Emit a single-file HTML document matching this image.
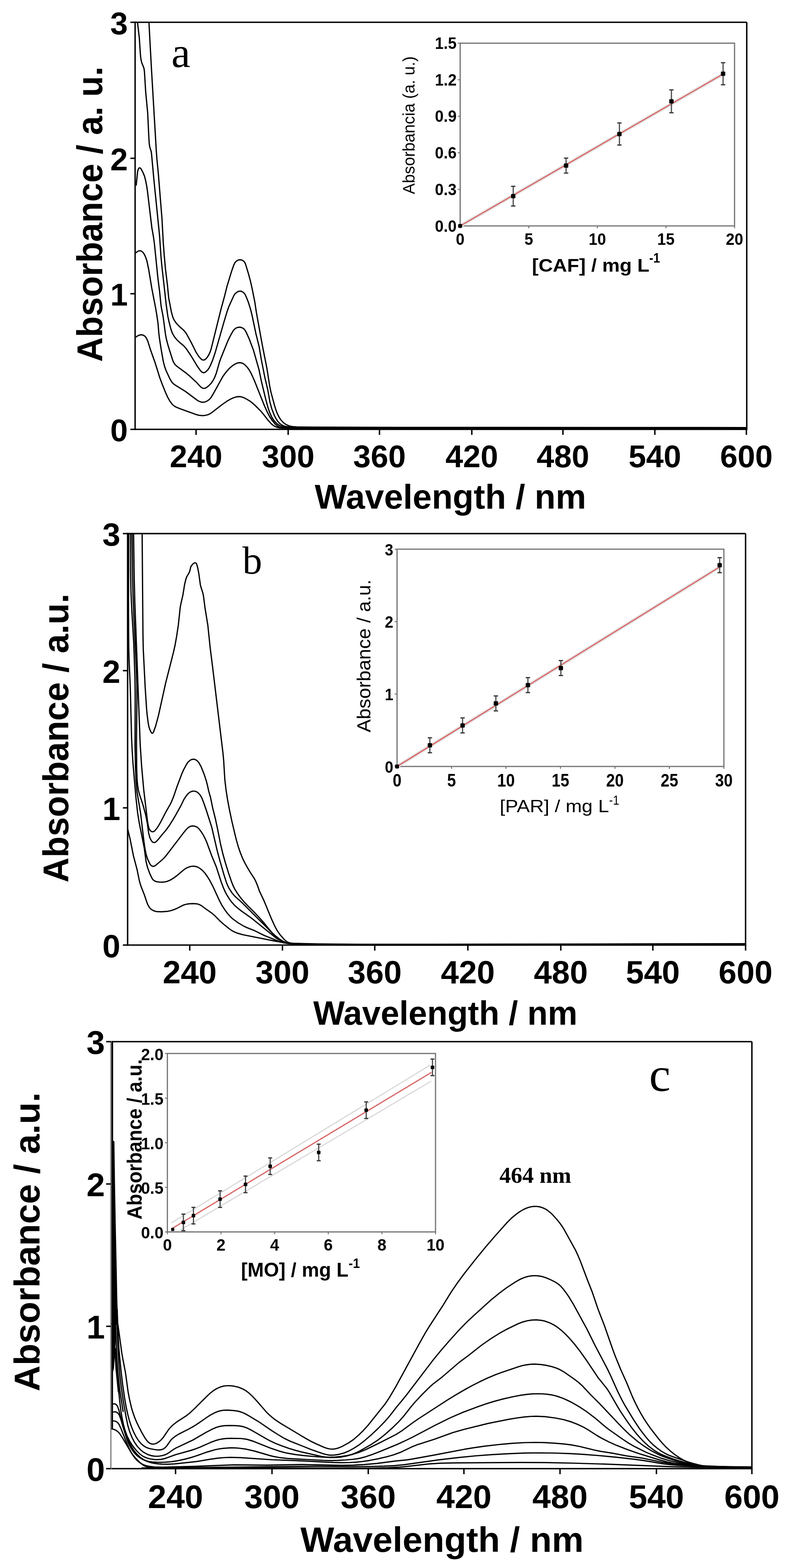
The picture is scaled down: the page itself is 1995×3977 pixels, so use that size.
<!DOCTYPE html>
<html><head><meta charset="utf-8"><title>UV-Vis spectra</title>
<style>html,body{margin:0;padding:0;background:#fff;}svg{display:block;}</style>
</head><body>
<svg xmlns="http://www.w3.org/2000/svg" width="1995" height="3977" viewBox="0 0 1995 3977">
<rect x="0" y="0" width="1995" height="3977" fill="#fff"/>
<line x1="342.5" y1="56.5" x2="1893.0" y2="56.5" stroke="#000" stroke-width="3.6"/>
<line x1="1893.0" y1="56.5" x2="1893.0" y2="1089.0" stroke="#000" stroke-width="3.6"/>
<line x1="340.7" y1="1089.0" x2="1894.8" y2="1089.0" stroke="#000" stroke-width="3.6"/>
<line x1="342.5" y1="54.7" x2="342.5" y2="1090.8" stroke="#000" stroke-width="3.6"/>
<line x1="497.0" y1="1089.0" x2="497.0" y2="1103.0" stroke="#000" stroke-width="3.6"/>
<text transform="translate(497.0,1184.5)" text-anchor="middle" style="font-family:&quot;Liberation Sans&quot;,Arial,sans-serif;font-weight:bold;font-size:80px" fill="#000">240</text>
<line x1="730.5" y1="1089.0" x2="730.5" y2="1103.0" stroke="#000" stroke-width="3.6"/>
<text transform="translate(730.5,1184.5)" text-anchor="middle" style="font-family:&quot;Liberation Sans&quot;,Arial,sans-serif;font-weight:bold;font-size:80px" fill="#000">300</text>
<line x1="962.0" y1="1089.0" x2="962.0" y2="1103.0" stroke="#000" stroke-width="3.6"/>
<text transform="translate(962.0,1184.5)" text-anchor="middle" style="font-family:&quot;Liberation Sans&quot;,Arial,sans-serif;font-weight:bold;font-size:80px" fill="#000">360</text>
<line x1="1196.0" y1="1089.0" x2="1196.0" y2="1103.0" stroke="#000" stroke-width="3.6"/>
<text transform="translate(1196.0,1184.5)" text-anchor="middle" style="font-family:&quot;Liberation Sans&quot;,Arial,sans-serif;font-weight:bold;font-size:80px" fill="#000">420</text>
<line x1="1427.0" y1="1089.0" x2="1427.0" y2="1103.0" stroke="#000" stroke-width="3.6"/>
<text transform="translate(1427.0,1184.5)" text-anchor="middle" style="font-family:&quot;Liberation Sans&quot;,Arial,sans-serif;font-weight:bold;font-size:80px" fill="#000">480</text>
<line x1="1660.0" y1="1089.0" x2="1660.0" y2="1103.0" stroke="#000" stroke-width="3.6"/>
<text transform="translate(1660.0,1184.5)" text-anchor="middle" style="font-family:&quot;Liberation Sans&quot;,Arial,sans-serif;font-weight:bold;font-size:80px" fill="#000">540</text>
<line x1="1892.0" y1="1089.0" x2="1892.0" y2="1103.0" stroke="#000" stroke-width="3.6"/>
<text transform="translate(1892.0,1184.5)" text-anchor="middle" style="font-family:&quot;Liberation Sans&quot;,Arial,sans-serif;font-weight:bold;font-size:80px" fill="#000">600</text>
<line x1="330.5" y1="1089.0" x2="342.5" y2="1089.0" stroke="#000" stroke-width="3.6"/>
<text transform="translate(324.0,1119.0)" text-anchor="end" style="font-family:&quot;Liberation Sans&quot;,Arial,sans-serif;font-weight:bold;font-size:80px" fill="#000">0</text>
<line x1="330.5" y1="745.0" x2="342.5" y2="745.0" stroke="#000" stroke-width="3.6"/>
<text transform="translate(324.0,775.0)" text-anchor="end" style="font-family:&quot;Liberation Sans&quot;,Arial,sans-serif;font-weight:bold;font-size:80px" fill="#000">1</text>
<line x1="330.5" y1="401.5" x2="342.5" y2="401.5" stroke="#000" stroke-width="3.6"/>
<text transform="translate(324.0,431.5)" text-anchor="end" style="font-family:&quot;Liberation Sans&quot;,Arial,sans-serif;font-weight:bold;font-size:80px" fill="#000">2</text>
<line x1="330.5" y1="56.5" x2="342.5" y2="56.5" stroke="#000" stroke-width="3.6"/>
<text transform="translate(324.0,86.5)" text-anchor="end" style="font-family:&quot;Liberation Sans&quot;,Arial,sans-serif;font-weight:bold;font-size:80px" fill="#000">3</text>
<text transform="translate(258.5,918.0) rotate(-90) scale(0.9670,1)" text-anchor="start" style="font-family:&quot;Liberation Sans&quot;,Arial,sans-serif;font-weight:bold;font-size:90px" fill="#000">Absorbance / a. u.</text>
<text transform="translate(797.8,1290.3)" text-anchor="start" style="font-family:&quot;Liberation Sans&quot;,Arial,sans-serif;font-weight:bold;font-size:87px" fill="#000">Wavelength / nm</text>
<text transform="translate(434.5,170.0)" text-anchor="start" style="font-family:&quot;Liberation Serif&quot;,&quot;Times New Roman&quot;,serif;font-weight:normal;font-size:108px" fill="#000">a</text>
<path d="M377.6,57.0 L383.6,168.9 L396.2,382.7 L397.7,402.6 L401.2,438.5 L410.7,556.2 L413.8,614.1 L416.2,646.1 L419.4,681.9 L424.3,721.7 L427.6,755.5 L434.4,790.9 L438.1,804.4 L441.3,811.7 L447.0,819.9 L453.8,827.2 L465.8,837.7 L470.8,843.9 L475.0,850.7 L484.5,868.3 L497.0,893.4 L503.5,903.5 L508.7,909.5 L511.7,912.0 L513.3,912.9 L516.8,913.2 L520.2,911.7 L524.3,907.6 L528.8,901.0 L532.2,893.8 L534.9,886.2 L560.0,785.2 L568.9,752.4 L575.2,727.1 L586.8,688.8 L592.8,671.9 L595.4,666.5 L597.9,663.5 L600.9,661.1 L604.5,659.4 L608.3,658.8 L612.1,659.3 L615.7,660.9 L618.7,663.3 L620.9,666.5 L622.5,670.1 L628.9,691.2 L634.7,712.4 L639.1,731.9 L645.8,765.3 L650.0,793.0 L665.0,875.7 L676.3,932.6 L683.8,980.1 L687.1,995.7 L696.5,1030.5 L699.6,1040.0 L703.1,1049.4 L707.6,1058.3 L712.0,1065.0 L717.3,1070.9 L721.9,1074.7 L725.3,1076.8 L730.7,1079.4 L736.4,1081.2 L742.3,1082.2 L752.3,1082.9 L794.3,1083.3 L1050.5,1084.1 L1891.0,1084.5" fill="none" stroke="#000" stroke-width="3.2" stroke-linejoin="round" stroke-linecap="round"/>
<path d="M348.6,57.0 L353.2,96.8 L355.8,136.7 L357.0,148.6 L359.1,158.4 L364.9,173.2 L366.1,181.1 L369.3,233.0 L374.4,286.8 L377.2,346.8 L378.4,364.8 L379.6,372.7 L383.2,383.9 L384.3,391.9 L389.9,453.6 L404.4,597.0 L408.1,650.9 L410.1,672.8 L421.5,774.3 L425.4,802.0 L428.8,817.7 L433.3,835.1 L436.7,844.5 L440.5,851.5 L443.9,856.5 L449.1,862.5 L453.4,866.7 L465.6,877.0 L472.2,884.5 L484.5,902.8 L499.9,928.5 L508.0,939.9 L512.1,944.1 L515.5,945.3 L517.2,945.2 L519.0,944.7 L522.2,942.6 L527.7,936.9 L529.9,933.6 L532.7,928.3 L539.0,913.6 L545.4,894.6 L567.4,817.6 L576.1,788.9 L580.1,777.6 L592.5,750.3 L594.5,746.9 L597.1,743.9 L601.8,740.4 L605.4,738.8 L609.2,738.4 L612.9,739.3 L616.3,741.3 L619.2,743.9 L621.5,747.2 L624.0,752.5 L629.2,765.6 L635.2,784.6 L639.0,800.2 L648.9,847.2 L657.1,880.2 L662.7,913.8 L671.7,958.9 L678.7,988.1 L684.2,1019.6 L689.0,1037.0 L695.5,1053.8 L699.1,1060.9 L703.4,1067.7 L707.2,1072.2 L711.7,1076.2 L716.8,1079.2 L722.4,1081.2 L732.2,1083.0 L752.2,1084.1 L840.3,1084.7 L1891.0,1085.5" fill="none" stroke="#000" stroke-width="3.2" stroke-linejoin="round" stroke-linecap="round"/>
<path d="M345.3,469.5 L348.8,435.7 L350.2,429.9 L351.9,426.8 L353.1,425.9 L354.3,425.7 L355.6,426.2 L356.8,427.3 L362.5,437.6 L366.3,446.9 L369.3,458.5 L371.6,470.3 L373.7,484.1 L384.9,577.5 L389.1,601.1 L391.5,618.9 L400.4,706.5 L404.7,740.3 L407.9,772.1 L409.0,780.0 L413.6,803.6 L419.4,847.2 L422.0,861.0 L426.1,876.4 L437.5,912.7 L439.7,918.3 L441.7,921.7 L444.0,924.9 L448.4,929.0 L470.9,945.6 L481.7,954.6 L497.8,969.5 L507.3,979.9 L510.2,982.5 L513.5,984.5 L515.3,985.0 L519.0,984.8 L522.6,983.4 L529.0,978.7 L534.6,973.0 L539.2,966.5 L544.0,957.7 L548.3,946.6 L556.0,919.6 L559.9,908.3 L577.2,865.6 L583.2,853.0 L590.0,840.7 L592.2,837.5 L594.9,834.6 L598.1,832.3 L601.7,830.6 L607.5,829.8 L611.3,830.4 L614.9,831.9 L618.2,834.1 L620.8,837.0 L624.7,843.9 L632.0,860.4 L642.6,888.5 L656.3,936.6 L662.8,967.9 L674.1,1014.6 L679.4,1033.9 L683.2,1045.2 L689.0,1058.0 L692.1,1063.1 L695.6,1068.0 L702.5,1075.1 L707.4,1078.5 L711.0,1080.2 L714.8,1081.5 L720.6,1082.8 L728.6,1083.9 L736.5,1084.5 L780.5,1085.3 L850.6,1085.9 L1108.7,1086.3 L1891.0,1086.0" fill="none" stroke="#000" stroke-width="3.2" stroke-linejoin="round" stroke-linecap="round"/>
<path d="M342.5,642.3 L349.0,637.7 L352.5,636.1 L356.1,636.0 L359.5,637.6 L362.4,640.2 L365.8,645.0 L369.2,652.3 L372.4,661.7 L376.9,683.3 L384.7,730.7 L394.2,779.8 L397.3,797.5 L400.7,821.3 L402.6,845.2 L404.3,859.1 L408.3,884.8 L413.9,916.4 L417.3,929.9 L421.5,941.2 L430.8,961.2 L436.0,969.6 L438.6,972.6 L441.7,975.1 L470.5,993.1 L500.9,1015.9 L506.3,1018.6 L510.0,1019.8 L513.9,1020.3 L519.8,1019.5 L523.4,1018.0 L528.5,1014.9 L531.5,1012.3 L535.3,1007.7 L539.5,1000.9 L564.7,955.3 L571.6,945.6 L580.8,935.0 L585.2,930.9 L589.9,927.2 L594.9,923.9 L600.3,921.3 L604.1,920.2 L608.0,919.9 L611.9,920.4 L615.6,921.7 L620.5,925.0 L627.3,932.2 L632.0,938.7 L636.8,947.5 L645.0,965.7 L670.2,1028.9 L677.6,1045.3 L683.1,1056.0 L689.7,1066.0 L697.3,1075.3 L703.3,1080.5 L706.7,1082.5 L710.4,1083.9 L718.3,1085.1 L740.3,1085.8 L832.3,1086.3 L1891.0,1086.5" fill="none" stroke="#000" stroke-width="3.2" stroke-linejoin="round" stroke-linecap="round"/>
<path d="M343.5,855.7 L348.4,852.2 L351.9,850.5 L355.7,849.4 L359.5,849.2 L363.3,850.1 L366.5,852.2 L369.3,855.0 L371.5,858.3 L374.7,865.5 L381.3,886.6 L392.7,918.6 L405.3,958.7 L411.6,975.6 L419.1,994.2 L424.8,1007.0 L430.6,1017.5 L436.6,1025.4 L439.5,1028.2 L442.7,1030.5 L448.0,1033.3 L457.3,1037.0 L498.8,1051.9 L504.6,1053.3 L510.5,1054.0 L514.5,1054.1 L520.5,1053.5 L528.2,1051.5 L535.2,1047.8 L563.6,1025.7 L575.2,1017.7 L583.8,1012.6 L591.0,1009.2 L598.6,1006.8 L604.5,1005.8 L610.4,1006.2 L616.1,1007.9 L623.4,1011.3 L632.0,1016.3 L638.5,1021.0 L647.4,1029.0 L661.5,1043.2 L668.0,1050.9 L680.2,1066.7 L688.3,1075.5 L693.0,1079.2 L698.2,1082.2 L701.9,1083.6 L707.8,1084.9 L715.7,1085.7 L737.7,1086.3 L849.9,1086.8 L1891.0,1087.0" fill="none" stroke="#000" stroke-width="3.2" stroke-linejoin="round" stroke-linecap="round"/>
<rect x="1166.5" y="109.5" width="695.5" height="463.5" fill="none" stroke="#737373" stroke-width="3"/>
<line x1="1160.5" y1="573.0" x2="1166.5" y2="573.0" stroke="#737373" stroke-width="2.5"/>
<text transform="translate(1157.5,587.5) scale(0.9200,1)" text-anchor="end" style="font-family:&quot;Liberation Sans&quot;,Arial,sans-serif;font-weight:bold;font-size:43px" fill="#000">0.0</text>
<line x1="1160.5" y1="480.3" x2="1166.5" y2="480.3" stroke="#737373" stroke-width="2.5"/>
<text transform="translate(1157.5,494.8) scale(0.9200,1)" text-anchor="end" style="font-family:&quot;Liberation Sans&quot;,Arial,sans-serif;font-weight:bold;font-size:43px" fill="#000">0.3</text>
<line x1="1160.5" y1="387.6" x2="1166.5" y2="387.6" stroke="#737373" stroke-width="2.5"/>
<text transform="translate(1157.5,402.1) scale(0.9200,1)" text-anchor="end" style="font-family:&quot;Liberation Sans&quot;,Arial,sans-serif;font-weight:bold;font-size:43px" fill="#000">0.6</text>
<line x1="1160.5" y1="294.9" x2="1166.5" y2="294.9" stroke="#737373" stroke-width="2.5"/>
<text transform="translate(1157.5,309.4) scale(0.9200,1)" text-anchor="end" style="font-family:&quot;Liberation Sans&quot;,Arial,sans-serif;font-weight:bold;font-size:43px" fill="#000">0.9</text>
<line x1="1160.5" y1="202.2" x2="1166.5" y2="202.2" stroke="#737373" stroke-width="2.5"/>
<text transform="translate(1157.5,216.7) scale(0.9200,1)" text-anchor="end" style="font-family:&quot;Liberation Sans&quot;,Arial,sans-serif;font-weight:bold;font-size:43px" fill="#000">1.2</text>
<line x1="1160.5" y1="109.5" x2="1166.5" y2="109.5" stroke="#737373" stroke-width="2.5"/>
<text transform="translate(1157.5,124.0) scale(0.9200,1)" text-anchor="end" style="font-family:&quot;Liberation Sans&quot;,Arial,sans-serif;font-weight:bold;font-size:43px" fill="#000">1.5</text>
<line x1="1166.5" y1="573.0" x2="1166.5" y2="579.0" stroke="#737373" stroke-width="2.5"/>
<text transform="translate(1166.5,621.0) scale(0.9200,1)" text-anchor="middle" style="font-family:&quot;Liberation Sans&quot;,Arial,sans-serif;font-weight:bold;font-size:43px" fill="#000">0</text>
<line x1="1340.4" y1="573.0" x2="1340.4" y2="579.0" stroke="#737373" stroke-width="2.5"/>
<text transform="translate(1340.4,621.0) scale(0.9200,1)" text-anchor="middle" style="font-family:&quot;Liberation Sans&quot;,Arial,sans-serif;font-weight:bold;font-size:43px" fill="#000">5</text>
<line x1="1514.2" y1="573.0" x2="1514.2" y2="579.0" stroke="#737373" stroke-width="2.5"/>
<text transform="translate(1514.2,621.0) scale(0.9200,1)" text-anchor="middle" style="font-family:&quot;Liberation Sans&quot;,Arial,sans-serif;font-weight:bold;font-size:43px" fill="#000">10</text>
<line x1="1688.1" y1="573.0" x2="1688.1" y2="579.0" stroke="#737373" stroke-width="2.5"/>
<text transform="translate(1688.1,621.0) scale(0.9200,1)" text-anchor="middle" style="font-family:&quot;Liberation Sans&quot;,Arial,sans-serif;font-weight:bold;font-size:43px" fill="#000">15</text>
<line x1="1862.0" y1="573.0" x2="1862.0" y2="579.0" stroke="#737373" stroke-width="2.5"/>
<text transform="translate(1862.0,621.0) scale(0.9200,1)" text-anchor="middle" style="font-family:&quot;Liberation Sans&quot;,Arial,sans-serif;font-weight:bold;font-size:43px" fill="#000">20</text>
<text transform="translate(1051.3,492.4) rotate(-90) scale(0.9860,1)" text-anchor="start" style="font-family:&quot;Liberation Sans&quot;,Arial,sans-serif;font-weight:normal;font-size:42px" fill="#000">Absorbancia (a. u.)</text>
<text transform="translate(1348.5,688.5) scale(1.0660,1)" text-anchor="start" style="font-family:&quot;Liberation Sans&quot;,Arial,sans-serif;font-weight:bold;font-size:47px" fill="#000">[CAF] / mg L</text>
<text transform="translate(1645.8,666.3) scale(0.8850,1)" text-anchor="start" style="font-family:&quot;Liberation Sans&quot;,Arial,sans-serif;font-weight:bold;font-size:35px" fill="#000">-1</text>
<line x1="1166.5" y1="573" x2="1836" y2="186" stroke="#e4e4e4" stroke-width="9"/>
<line x1="1166.5" y1="573" x2="1836" y2="186" stroke="#d86464" stroke-width="3"/>
<line x1="1301.0" y1="472.5" x2="1301.0" y2="522.5" stroke="#4a4a4a" stroke-width="3"/>
<line x1="1295.5" y1="472.5" x2="1306.5" y2="472.5" stroke="#333" stroke-width="3"/>
<line x1="1295.5" y1="522.5" x2="1306.5" y2="522.5" stroke="#333" stroke-width="3"/>
<rect x="1295.5" y="492.0" width="11" height="11" rx="2" fill="#000"/>
<line x1="1435.0" y1="401.0" x2="1435.0" y2="439.0" stroke="#4a4a4a" stroke-width="3"/>
<line x1="1429.5" y1="401.0" x2="1440.5" y2="401.0" stroke="#333" stroke-width="3"/>
<line x1="1429.5" y1="439.0" x2="1440.5" y2="439.0" stroke="#333" stroke-width="3"/>
<rect x="1429.5" y="414.5" width="11" height="11" rx="2" fill="#000"/>
<line x1="1570.2" y1="311.9" x2="1570.2" y2="367.9" stroke="#4a4a4a" stroke-width="3"/>
<line x1="1564.7" y1="311.9" x2="1575.7" y2="311.9" stroke="#333" stroke-width="3"/>
<line x1="1564.7" y1="367.9" x2="1575.7" y2="367.9" stroke="#333" stroke-width="3"/>
<rect x="1564.7" y="334.4" width="11" height="11" rx="2" fill="#000"/>
<line x1="1702.0" y1="228.0" x2="1702.0" y2="286.0" stroke="#4a4a4a" stroke-width="3"/>
<line x1="1696.5" y1="228.0" x2="1707.5" y2="228.0" stroke="#333" stroke-width="3"/>
<line x1="1696.5" y1="286.0" x2="1707.5" y2="286.0" stroke="#333" stroke-width="3"/>
<rect x="1696.5" y="251.5" width="11" height="11" rx="2" fill="#000"/>
<line x1="1833.0" y1="159.0" x2="1833.0" y2="215.0" stroke="#4a4a4a" stroke-width="3"/>
<line x1="1827.5" y1="159.0" x2="1838.5" y2="159.0" stroke="#333" stroke-width="3"/>
<line x1="1827.5" y1="215.0" x2="1838.5" y2="215.0" stroke="#333" stroke-width="3"/>
<rect x="1827.5" y="181.5" width="11" height="11" rx="2" fill="#000"/>
<rect x="1161.5" y="568" width="10" height="10" rx="2" fill="#000"/>
<line x1="323.5" y1="1353.4" x2="1890.0" y2="1353.4" stroke="#000" stroke-width="3.6"/>
<line x1="1890.0" y1="1353.4" x2="1890.0" y2="2397.0" stroke="#000" stroke-width="3.6"/>
<line x1="321.7" y1="2397.0" x2="1891.8" y2="2397.0" stroke="#000" stroke-width="3.6"/>
<line x1="323.5" y1="1351.6" x2="323.5" y2="2398.8" stroke="#000" stroke-width="3.6"/>
<line x1="481.0" y1="2397.0" x2="481.0" y2="2411.0" stroke="#000" stroke-width="3.6"/>
<text transform="translate(481.0,2493.5)" text-anchor="middle" style="font-family:&quot;Liberation Sans&quot;,Arial,sans-serif;font-weight:bold;font-size:82px" fill="#000">240</text>
<line x1="716.0" y1="2397.0" x2="716.0" y2="2411.0" stroke="#000" stroke-width="3.6"/>
<text transform="translate(716.0,2493.5)" text-anchor="middle" style="font-family:&quot;Liberation Sans&quot;,Arial,sans-serif;font-weight:bold;font-size:82px" fill="#000">300</text>
<line x1="950.0" y1="2397.0" x2="950.0" y2="2411.0" stroke="#000" stroke-width="3.6"/>
<text transform="translate(950.0,2493.5)" text-anchor="middle" style="font-family:&quot;Liberation Sans&quot;,Arial,sans-serif;font-weight:bold;font-size:82px" fill="#000">360</text>
<line x1="1186.0" y1="2397.0" x2="1186.0" y2="2411.0" stroke="#000" stroke-width="3.6"/>
<text transform="translate(1186.0,2493.5)" text-anchor="middle" style="font-family:&quot;Liberation Sans&quot;,Arial,sans-serif;font-weight:bold;font-size:82px" fill="#000">420</text>
<line x1="1421.6" y1="2397.0" x2="1421.6" y2="2411.0" stroke="#000" stroke-width="3.6"/>
<text transform="translate(1421.6,2493.5)" text-anchor="middle" style="font-family:&quot;Liberation Sans&quot;,Arial,sans-serif;font-weight:bold;font-size:82px" fill="#000">480</text>
<line x1="1655.0" y1="2397.0" x2="1655.0" y2="2411.0" stroke="#000" stroke-width="3.6"/>
<text transform="translate(1655.0,2493.5)" text-anchor="middle" style="font-family:&quot;Liberation Sans&quot;,Arial,sans-serif;font-weight:bold;font-size:82px" fill="#000">540</text>
<line x1="1890.0" y1="2397.0" x2="1890.0" y2="2411.0" stroke="#000" stroke-width="3.6"/>
<text transform="translate(1890.0,2493.5)" text-anchor="middle" style="font-family:&quot;Liberation Sans&quot;,Arial,sans-serif;font-weight:bold;font-size:82px" fill="#000">600</text>
<line x1="311.5" y1="2397.0" x2="323.5" y2="2397.0" stroke="#000" stroke-width="3.6"/>
<text transform="translate(305.0,2428.0)" text-anchor="end" style="font-family:&quot;Liberation Sans&quot;,Arial,sans-serif;font-weight:bold;font-size:82px" fill="#000">0</text>
<line x1="311.5" y1="2049.0" x2="323.5" y2="2049.0" stroke="#000" stroke-width="3.6"/>
<text transform="translate(305.0,2080.0)" text-anchor="end" style="font-family:&quot;Liberation Sans&quot;,Arial,sans-serif;font-weight:bold;font-size:82px" fill="#000">1</text>
<line x1="311.5" y1="1701.0" x2="323.5" y2="1701.0" stroke="#000" stroke-width="3.6"/>
<text transform="translate(305.0,1732.0)" text-anchor="end" style="font-family:&quot;Liberation Sans&quot;,Arial,sans-serif;font-weight:bold;font-size:82px" fill="#000">2</text>
<line x1="311.5" y1="1353.4" x2="323.5" y2="1353.4" stroke="#000" stroke-width="3.6"/>
<text transform="translate(305.0,1384.4)" text-anchor="end" style="font-family:&quot;Liberation Sans&quot;,Arial,sans-serif;font-weight:bold;font-size:82px" fill="#000">3</text>
<text transform="translate(173.0,2238.5) rotate(-90) scale(0.9770,1)" text-anchor="start" style="font-family:&quot;Liberation Sans&quot;,Arial,sans-serif;font-weight:bold;font-size:90px" fill="#000">Absorbance / a.u.</text>
<text transform="translate(793.9,2599.2) scale(0.9850,1)" text-anchor="start" style="font-family:&quot;Liberation Sans&quot;,Arial,sans-serif;font-weight:bold;font-size:86px" fill="#000">Wavelength / nm</text>
<text transform="translate(614.6,1455.0)" text-anchor="start" style="font-family:&quot;Liberation Serif&quot;,&quot;Times New Roman&quot;,serif;font-weight:normal;font-size:100px" fill="#000">b</text>
<path d="M360.3,1355.0 L362.4,1609.1 L363.2,1647.1 L368.0,1743.0 L371.5,1796.9 L373.0,1812.8 L375.5,1832.6 L377.3,1842.5 L379.0,1848.2 L382.1,1855.6 L384.2,1858.8 L385.6,1859.7 L387.1,1859.4 L388.2,1858.2 L389.9,1854.6 L394.6,1841.4 L401.8,1814.4 L419.9,1732.3 L439.6,1654.8 L443.6,1637.2 L447.8,1613.6 L452.0,1585.9 L456.9,1540.1 L458.8,1530.3 L463.7,1508.9 L467.8,1483.2 L471.0,1469.6 L473.7,1462.1 L479.9,1451.8 L481.2,1448.0 L483.4,1438.3 L485.2,1434.8 L489.2,1430.3 L492.4,1428.0 L494.1,1427.5 L495.9,1427.7 L497.3,1428.7 L498.3,1430.3 L500.7,1437.9 L503.8,1453.6 L507.9,1483.3 L509.4,1489.1 L513.7,1502.4 L515.6,1510.2 L519.7,1542.0 L526.8,1585.4 L532.8,1643.1 L538.8,1690.7 L565.1,1909.2 L567.0,1929.1 L569.9,1977.0 L572.9,2002.9 L576.9,2028.6 L581.7,2054.1 L587.9,2083.5 L595.7,2116.6 L599.6,2132.1 L604.6,2149.4 L609.2,2162.6 L614.4,2175.6 L619.5,2186.5 L626.2,2198.8 L633.3,2210.8 L644.2,2227.6 L648.0,2234.7 L653.3,2247.6 L657.9,2260.8 L669.1,2284.3 L688.1,2330.5 L696.4,2348.7 L702.1,2359.3 L710.0,2370.9 L720.6,2382.9 L726.6,2388.1 L730.1,2390.0 L733.9,2391.3 L737.8,2392.1 L743.7,2392.6 L805.7,2394.2 L899.8,2395.0 L1137.8,2395.2 L1888.0,2393.5" fill="none" stroke="#000" stroke-width="3.2" stroke-linejoin="round" stroke-linecap="round"/>
<path d="M338.6,1355.0 L340.2,1465.0 L341.7,1525.0 L355.4,1888.9 L359.1,1944.8 L364.3,2002.5 L373.5,2080.0 L375.3,2091.9 L377.2,2099.6 L378.7,2103.3 L380.8,2106.5 L383.6,2108.9 L387.0,2109.7 L388.7,2109.5 L391.8,2107.7 L397.0,2101.8 L401.4,2095.2 L407.4,2084.8 L421.2,2058.1 L431.1,2040.8 L434.7,2033.7 L440.0,2020.7 L447.7,1997.9 L461.0,1962.3 L465.9,1951.4 L472.6,1939.1 L475.8,1934.1 L478.5,1931.2 L483.2,1927.6 L486.8,1926.1 L490.5,1925.6 L492.4,1925.8 L496.0,1927.1 L499.3,1929.2 L502.1,1931.9 L504.6,1935.0 L510.2,1945.6 L517.6,1964.2 L522.6,1979.4 L525.2,1989.0 L529.1,2006.6 L533.5,2022.0 L539.2,2049.4 L546.4,2078.5 L551.4,2102.0 L558.7,2139.3 L564.2,2162.7 L571.1,2187.7 L579.4,2214.5 L586.5,2235.3 L591.7,2248.3 L596.3,2257.2 L602.8,2267.3 L609.9,2276.9 L618.9,2287.7 L627.1,2296.4 L644.2,2313.3 L656.5,2326.5 L668.4,2339.9 L682.2,2357.1 L688.7,2364.6 L698.9,2374.3 L709.9,2382.8 L716.8,2387.0 L724.1,2390.2 L729.8,2391.8 L737.7,2393.1 L769.7,2394.3 L815.7,2394.9 L921.7,2395.5 L1079.8,2395.5 L1888.0,2394.0" fill="none" stroke="#000" stroke-width="3.2" stroke-linejoin="round" stroke-linecap="round"/>
<path d="M334.8,1355.0 L336.0,1455.0 L337.2,1507.1 L339.1,1555.1 L345.7,1699.0 L346.9,1735.0 L347.1,1775.0 L345.9,1883.0 L346.5,1949.1 L347.4,1975.1 L348.8,1991.0 L351.0,2004.8 L354.1,2016.4 L362.3,2041.1 L369.1,2066.2 L373.4,2087.8 L376.9,2113.6 L380.1,2125.1 L383.6,2132.2 L386.1,2135.1 L387.6,2136.2 L390.8,2137.0 L392.4,2136.7 L394.0,2136.0 L397.0,2133.6 L402.3,2127.7 L411.1,2116.8 L420.3,2106.2 L429.6,2093.2 L438.1,2079.7 L447.2,2064.1 L458.8,2043.1 L466.6,2026.9 L471.0,2020.3 L475.9,2014.0 L478.8,2011.2 L482.0,2009.0 L485.6,2007.4 L489.4,2006.5 L495.1,2007.0 L498.8,2008.5 L502.0,2010.7 L507.3,2016.5 L511.4,2023.4 L515.1,2032.6 L522.5,2053.4 L537.0,2099.1 L550.6,2157.6 L556.8,2180.8 L567.9,2219.3 L574.0,2238.3 L577.0,2245.7 L580.5,2252.9 L588.1,2264.7 L595.9,2273.8 L609.4,2285.6 L615.2,2291.1 L678.8,2354.9 L695.4,2372.3 L701.3,2377.6 L707.8,2382.3 L714.6,2386.5 L721.9,2389.8 L727.6,2391.6 L735.4,2393.0 L779.4,2394.6 L835.4,2395.5 L943.5,2396.1 L1097.6,2396.2 L1888.0,2394.5" fill="none" stroke="#000" stroke-width="3.2" stroke-linejoin="round" stroke-linecap="round"/>
<path d="M330.9,1355.0 L331.2,1453.0 L332.0,1501.0 L333.8,1541.0 L339.1,1632.9 L342.1,1718.8 L342.7,1764.9 L342.3,1888.9 L343.5,1946.9 L344.9,1980.9 L347.4,2008.8 L356.3,2062.0 L365.0,2135.5 L367.6,2153.4 L370.4,2167.1 L374.0,2178.5 L379.0,2189.4 L381.0,2192.8 L383.6,2195.6 L386.8,2197.2 L388.5,2197.4 L390.3,2197.1 L393.7,2195.5 L410.4,2181.4 L416.2,2175.9 L421.4,2169.8 L463.9,2114.1 L472.7,2103.3 L476.9,2099.1 L482.0,2096.1 L487.7,2094.9 L493.5,2095.4 L498.9,2097.6 L503.5,2101.3 L509.7,2109.1 L515.1,2117.5 L520.6,2128.2 L524.5,2137.4 L536.2,2169.3 L548.4,2198.9 L560.7,2237.0 L566.4,2251.9 L570.4,2261.0 L575.1,2269.9 L581.4,2280.1 L587.3,2288.1 L595.4,2297.0 L604.5,2304.9 L614.0,2312.1 L636.9,2328.3 L699.1,2378.6 L707.5,2383.9 L716.5,2388.4 L724.0,2391.1 L733.7,2393.1 L741.7,2393.8 L767.7,2394.8 L807.7,2395.7 L877.7,2396.4 L973.7,2396.7 L1173.8,2396.6 L1888.0,2395.0" fill="none" stroke="#000" stroke-width="3.2" stroke-linejoin="round" stroke-linecap="round"/>
<path d="M326.3,1355.0 L325.7,1555.2 L326.3,1639.2 L327.2,1673.2 L330.3,1745.2 L333.6,1873.3 L335.0,1903.3 L337.2,1937.2 L344.6,2023.0 L349.0,2062.8 L353.2,2088.4 L365.8,2151.2 L370.2,2185.0 L374.1,2200.5 L379.6,2215.5 L385.6,2228.1 L387.9,2231.3 L390.8,2233.8 L396.1,2236.2 L406.0,2237.5 L415.9,2237.2 L423.7,2235.5 L431.1,2232.5 L439.7,2227.4 L447.7,2221.4 L466.1,2206.0 L471.0,2202.6 L474.5,2200.7 L482.0,2198.0 L487.9,2197.0 L493.8,2197.2 L497.7,2198.1 L501.4,2199.4 L508.2,2203.5 L514.2,2208.7 L519.6,2214.7 L525.4,2222.8 L531.7,2233.0 L539.2,2247.2 L556.8,2285.3 L563.4,2297.7 L570.0,2307.7 L577.1,2317.4 L583.8,2324.8 L589.6,2330.3 L602.5,2339.8 L617.9,2349.0 L627.0,2353.2 L645.6,2360.6 L668.9,2372.2 L709.7,2388.7 L719.3,2391.4 L729.2,2393.0 L757.1,2394.9 L803.1,2396.1 L875.2,2397.0 L973.3,2397.4 L1165.4,2397.2 L1677.8,2395.3 L1888.0,2395.0" fill="none" stroke="#000" stroke-width="3.2" stroke-linejoin="round" stroke-linecap="round"/>
<path d="M323.5,2102.0 L329.6,2127.3 L338.2,2170.4 L347.4,2205.3 L352.6,2230.8 L355.0,2240.5 L358.2,2249.9 L366.2,2270.4 L372.6,2289.4 L374.8,2295.0 L378.9,2301.8 L381.5,2304.7 L384.5,2307.2 L389.7,2310.1 L393.5,2311.3 L397.4,2312.1 L409.4,2312.6 L423.3,2311.7 L433.1,2309.8 L440.7,2307.3 L449.9,2303.4 L464.1,2296.0 L471.6,2293.5 L479.5,2292.3 L487.5,2291.9 L495.5,2292.1 L501.4,2293.0 L505.2,2294.2 L510.4,2297.0 L523.3,2306.5 L536.4,2315.6 L544.0,2322.1 L558.1,2336.3 L568.5,2345.6 L582.6,2356.8 L587.6,2360.2 L592.8,2363.1 L602.0,2366.9 L615.5,2370.7 L697.9,2387.1 L725.6,2391.4 L741.5,2393.3 L753.5,2394.2 L791.5,2395.3 L861.5,2396.1 L1113.6,2396.5 L1888.0,2395.0" fill="none" stroke="#000" stroke-width="3.2" stroke-linejoin="round" stroke-linecap="round"/>
<rect x="1006.5" y="1392.9" width="828.5" height="551.0999999999999" fill="none" stroke="#737373" stroke-width="3"/>
<line x1="1000.5" y1="1944.0" x2="1006.5" y2="1944.0" stroke="#737373" stroke-width="2.5"/>
<text transform="translate(997.0,1959.8) scale(0.9100,1)" text-anchor="end" style="font-family:&quot;Liberation Sans&quot;,Arial,sans-serif;font-weight:bold;font-size:42.5px" fill="#000">0</text>
<line x1="1000.5" y1="1760.3" x2="1006.5" y2="1760.3" stroke="#737373" stroke-width="2.5"/>
<text transform="translate(997.0,1776.1) scale(0.9100,1)" text-anchor="end" style="font-family:&quot;Liberation Sans&quot;,Arial,sans-serif;font-weight:bold;font-size:42.5px" fill="#000">1</text>
<line x1="1000.5" y1="1576.6" x2="1006.5" y2="1576.6" stroke="#737373" stroke-width="2.5"/>
<text transform="translate(997.0,1592.4) scale(0.9100,1)" text-anchor="end" style="font-family:&quot;Liberation Sans&quot;,Arial,sans-serif;font-weight:bold;font-size:42.5px" fill="#000">2</text>
<line x1="1000.5" y1="1392.9" x2="1006.5" y2="1392.9" stroke="#737373" stroke-width="2.5"/>
<text transform="translate(997.0,1408.7) scale(0.9100,1)" text-anchor="end" style="font-family:&quot;Liberation Sans&quot;,Arial,sans-serif;font-weight:bold;font-size:42.5px" fill="#000">3</text>
<line x1="1006.5" y1="1944.0" x2="1006.5" y2="1950.0" stroke="#737373" stroke-width="2.5"/>
<text transform="translate(1006.5,1995.0) scale(0.8700,1)" text-anchor="middle" style="font-family:&quot;Liberation Sans&quot;,Arial,sans-serif;font-weight:bold;font-size:46px" fill="#000">0</text>
<line x1="1144.6" y1="1944.0" x2="1144.6" y2="1950.0" stroke="#737373" stroke-width="2.5"/>
<text transform="translate(1144.6,1995.0) scale(0.8700,1)" text-anchor="middle" style="font-family:&quot;Liberation Sans&quot;,Arial,sans-serif;font-weight:bold;font-size:46px" fill="#000">5</text>
<line x1="1282.7" y1="1944.0" x2="1282.7" y2="1950.0" stroke="#737373" stroke-width="2.5"/>
<text transform="translate(1282.7,1995.0) scale(0.8700,1)" text-anchor="middle" style="font-family:&quot;Liberation Sans&quot;,Arial,sans-serif;font-weight:bold;font-size:46px" fill="#000">10</text>
<line x1="1420.8" y1="1944.0" x2="1420.8" y2="1950.0" stroke="#737373" stroke-width="2.5"/>
<text transform="translate(1420.8,1995.0) scale(0.8700,1)" text-anchor="middle" style="font-family:&quot;Liberation Sans&quot;,Arial,sans-serif;font-weight:bold;font-size:46px" fill="#000">15</text>
<line x1="1558.8" y1="1944.0" x2="1558.8" y2="1950.0" stroke="#737373" stroke-width="2.5"/>
<text transform="translate(1558.8,1995.0) scale(0.8700,1)" text-anchor="middle" style="font-family:&quot;Liberation Sans&quot;,Arial,sans-serif;font-weight:bold;font-size:46px" fill="#000">20</text>
<line x1="1696.9" y1="1944.0" x2="1696.9" y2="1950.0" stroke="#737373" stroke-width="2.5"/>
<text transform="translate(1696.9,1995.0) scale(0.8700,1)" text-anchor="middle" style="font-family:&quot;Liberation Sans&quot;,Arial,sans-serif;font-weight:bold;font-size:46px" fill="#000">25</text>
<line x1="1835.0" y1="1944.0" x2="1835.0" y2="1950.0" stroke="#737373" stroke-width="2.5"/>
<text transform="translate(1835.0,1995.0) scale(0.8700,1)" text-anchor="middle" style="font-family:&quot;Liberation Sans&quot;,Arial,sans-serif;font-weight:bold;font-size:46px" fill="#000">30</text>
<text transform="translate(938.9,1857.5) rotate(-90) scale(1.0200,1)" text-anchor="start" style="font-family:&quot;Liberation Sans&quot;,Arial,sans-serif;font-weight:normal;font-size:48.5px" fill="#000">Absorbance / a.u.</text>
<text transform="translate(1266.8,2060.3) scale(1.1000,1)" text-anchor="start" style="font-family:&quot;Liberation Sans&quot;,Arial,sans-serif;font-weight:normal;font-size:45px" fill="#000">[PAR] / mg L</text>
<text transform="translate(1544.1,2040.5) scale(0.8650,1)" text-anchor="start" style="font-family:&quot;Liberation Sans&quot;,Arial,sans-serif;font-weight:normal;font-size:33.4px" fill="#000">-1</text>
<line x1="1006.5" y1="1944" x2="1826" y2="1437" stroke="#e4e4e4" stroke-width="9"/>
<line x1="1006.5" y1="1944" x2="1826" y2="1437" stroke="#d86464" stroke-width="3"/>
<line x1="1089.7" y1="1871.2" x2="1089.7" y2="1909.2" stroke="#4a4a4a" stroke-width="3"/>
<line x1="1084.2" y1="1871.2" x2="1095.2" y2="1871.2" stroke="#333" stroke-width="3"/>
<line x1="1084.2" y1="1909.2" x2="1095.2" y2="1909.2" stroke="#333" stroke-width="3"/>
<rect x="1084.2" y="1884.7" width="11" height="11" rx="2" fill="#000"/>
<line x1="1172.6" y1="1820.9" x2="1172.6" y2="1858.9" stroke="#4a4a4a" stroke-width="3"/>
<line x1="1167.1" y1="1820.9" x2="1178.1" y2="1820.9" stroke="#333" stroke-width="3"/>
<line x1="1167.1" y1="1858.9" x2="1178.1" y2="1858.9" stroke="#333" stroke-width="3"/>
<rect x="1167.1" y="1834.4" width="11" height="11" rx="2" fill="#000"/>
<line x1="1257.0" y1="1765.1" x2="1257.0" y2="1803.1" stroke="#4a4a4a" stroke-width="3"/>
<line x1="1251.5" y1="1765.1" x2="1262.5" y2="1765.1" stroke="#333" stroke-width="3"/>
<line x1="1251.5" y1="1803.1" x2="1262.5" y2="1803.1" stroke="#333" stroke-width="3"/>
<rect x="1251.5" y="1778.6" width="11" height="11" rx="2" fill="#000"/>
<line x1="1338.2" y1="1718.7" x2="1338.2" y2="1756.7" stroke="#4a4a4a" stroke-width="3"/>
<line x1="1332.7" y1="1718.7" x2="1343.7" y2="1718.7" stroke="#333" stroke-width="3"/>
<line x1="1332.7" y1="1756.7" x2="1343.7" y2="1756.7" stroke="#333" stroke-width="3"/>
<rect x="1332.7" y="1732.2" width="11" height="11" rx="2" fill="#000"/>
<line x1="1421.8" y1="1675.4" x2="1421.8" y2="1713.4" stroke="#4a4a4a" stroke-width="3"/>
<line x1="1416.3" y1="1675.4" x2="1427.3" y2="1675.4" stroke="#333" stroke-width="3"/>
<line x1="1416.3" y1="1713.4" x2="1427.3" y2="1713.4" stroke="#333" stroke-width="3"/>
<rect x="1416.3" y="1688.9" width="11" height="11" rx="2" fill="#000"/>
<line x1="1824.3" y1="1414.5" x2="1824.3" y2="1452.5" stroke="#4a4a4a" stroke-width="3"/>
<line x1="1818.8" y1="1414.5" x2="1829.8" y2="1414.5" stroke="#333" stroke-width="3"/>
<line x1="1818.8" y1="1452.5" x2="1829.8" y2="1452.5" stroke="#333" stroke-width="3"/>
<rect x="1818.8" y="1428.0" width="11" height="11" rx="2" fill="#000"/>
<rect x="1001.5" y="1939" width="10" height="10" rx="2" fill="#000"/>
<line x1="281.0" y1="2642.0" x2="1906.0" y2="2642.0" stroke="#000" stroke-width="3.6"/>
<line x1="1906.0" y1="2642.0" x2="1906.0" y2="3725.0" stroke="#000" stroke-width="3.6"/>
<line x1="279.2" y1="3725.0" x2="1907.8" y2="3725.0" stroke="#000" stroke-width="3.6"/>
<line x1="281.0" y1="2640.2" x2="281.0" y2="3726.8" stroke="#8c8c8c" stroke-width="3.6"/>
<line x1="445.0" y1="3725.0" x2="445.0" y2="3739.0" stroke="#000" stroke-width="3.6"/>
<text transform="translate(445.0,3825.0)" text-anchor="middle" style="font-family:&quot;Liberation Sans&quot;,Arial,sans-serif;font-weight:bold;font-size:84px" fill="#000">240</text>
<line x1="689.5" y1="3725.0" x2="689.5" y2="3739.0" stroke="#000" stroke-width="3.6"/>
<text transform="translate(689.5,3825.0)" text-anchor="middle" style="font-family:&quot;Liberation Sans&quot;,Arial,sans-serif;font-weight:bold;font-size:84px" fill="#000">300</text>
<line x1="933.5" y1="3725.0" x2="933.5" y2="3739.0" stroke="#000" stroke-width="3.6"/>
<text transform="translate(933.5,3825.0)" text-anchor="middle" style="font-family:&quot;Liberation Sans&quot;,Arial,sans-serif;font-weight:bold;font-size:84px" fill="#000">360</text>
<line x1="1176.0" y1="3725.0" x2="1176.0" y2="3739.0" stroke="#000" stroke-width="3.6"/>
<text transform="translate(1176.0,3825.0)" text-anchor="middle" style="font-family:&quot;Liberation Sans&quot;,Arial,sans-serif;font-weight:bold;font-size:84px" fill="#000">420</text>
<line x1="1419.6" y1="3725.0" x2="1419.6" y2="3739.0" stroke="#000" stroke-width="3.6"/>
<text transform="translate(1419.6,3825.0)" text-anchor="middle" style="font-family:&quot;Liberation Sans&quot;,Arial,sans-serif;font-weight:bold;font-size:84px" fill="#000">480</text>
<line x1="1664.0" y1="3725.0" x2="1664.0" y2="3739.0" stroke="#000" stroke-width="3.6"/>
<text transform="translate(1664.0,3825.0)" text-anchor="middle" style="font-family:&quot;Liberation Sans&quot;,Arial,sans-serif;font-weight:bold;font-size:84px" fill="#000">540</text>
<line x1="1906.0" y1="3725.0" x2="1906.0" y2="3739.0" stroke="#000" stroke-width="3.6"/>
<text transform="translate(1906.0,3825.0)" text-anchor="middle" style="font-family:&quot;Liberation Sans&quot;,Arial,sans-serif;font-weight:bold;font-size:84px" fill="#000">600</text>
<line x1="269.0" y1="3725.0" x2="281.0" y2="3725.0" stroke="#000" stroke-width="3.6"/>
<text transform="translate(266.0,3756.0)" text-anchor="end" style="font-family:&quot;Liberation Sans&quot;,Arial,sans-serif;font-weight:bold;font-size:84px" fill="#000">0</text>
<line x1="269.0" y1="3364.0" x2="281.0" y2="3364.0" stroke="#000" stroke-width="3.6"/>
<text transform="translate(266.0,3395.0)" text-anchor="end" style="font-family:&quot;Liberation Sans&quot;,Arial,sans-serif;font-weight:bold;font-size:84px" fill="#000">1</text>
<line x1="269.0" y1="3003.0" x2="281.0" y2="3003.0" stroke="#000" stroke-width="3.6"/>
<text transform="translate(266.0,3034.0)" text-anchor="end" style="font-family:&quot;Liberation Sans&quot;,Arial,sans-serif;font-weight:bold;font-size:84px" fill="#000">2</text>
<line x1="269.0" y1="2642.0" x2="281.0" y2="2642.0" stroke="#000" stroke-width="3.6"/>
<text transform="translate(266.0,2673.0)" text-anchor="end" style="font-family:&quot;Liberation Sans&quot;,Arial,sans-serif;font-weight:bold;font-size:84px" fill="#000">3</text>
<text transform="translate(100.0,3529.0) rotate(-90)" text-anchor="start" style="font-family:&quot;Liberation Sans&quot;,Arial,sans-serif;font-weight:bold;font-size:91px" fill="#000">Absorbance / a.u.</text>
<text transform="translate(761.6,3935.9) scale(1.0200,1)" text-anchor="start" style="font-family:&quot;Liberation Sans&quot;,Arial,sans-serif;font-weight:bold;font-size:89px" fill="#000">Wavelength / nm</text>
<text transform="translate(1645.6,2767.0)" text-anchor="start" style="font-family:&quot;Liberation Serif&quot;,&quot;Times New Roman&quot;,serif;font-weight:normal;font-size:122px" fill="#000">c</text>
<text transform="translate(1266.0,3000.0)" text-anchor="start" style="font-family:&quot;Liberation Serif&quot;,&quot;Times New Roman&quot;,serif;font-weight:bold;font-size:58px" fill="#000">464 nm</text>
<path d="M282.5,2642 L286.8,2642 L286.8,2893 L290,2895 L291.5,3000 L293.5,3110 L295.5,3200 L297.5,3300 L299.5,3360 L282.5,3360 Z" fill="#000"/>
<path d="M282.5,3355 L293,3355 L293,3400 L291,3440 L289,3470 L286.5,3480 L286.5,3626 L282.5,3626 Z" fill="#000"/>
<path d="M293.0,3360.0 L295.3,3426.3 L296.9,3454.4 L298.9,3480.4 L303.6,3524.4 L312.0,3580.0" fill="none" stroke="#000" stroke-width="3.2" stroke-linejoin="round" stroke-linecap="round"/>
<path d="M291.0,3420.0 L294.2,3472.1 L300.0,3530.0" fill="none" stroke="#000" stroke-width="3.0" stroke-linejoin="round" stroke-linecap="round"/>
<path d="M299.0,3360.0 L308.7,3431.4 L311.1,3445.2 L317.9,3480.5 L324.7,3530.1 L328.4,3549.7 L333.0,3569.2 L336.3,3580.7 L340.9,3593.9 L345.4,3605.0 L350.5,3615.9 L360.6,3635.4 L367.6,3647.5 L373.5,3655.4 L376.1,3658.1 L379.0,3660.3 L383.9,3662.4 L387.4,3662.8 L391.0,3662.5 L394.6,3661.5 L398.0,3660.0 L404.4,3655.6 L408.8,3651.6 L414.0,3645.6 L427.4,3625.9 L431.2,3621.3 L436.8,3615.6 L447.6,3606.9 L471.1,3591.7 L480.5,3584.4 L493.7,3572.1 L526.3,3539.6 L533.7,3532.9 L539.9,3527.9 L550.0,3521.6 L559.1,3517.7 L564.8,3516.1 L570.6,3515.0 L580.5,3514.5 L592.4,3515.7 L604.0,3518.3 L615.1,3522.7 L623.7,3527.6 L631.5,3533.7 L640.3,3541.9 L652.5,3555.1 L674.7,3580.8 L681.8,3587.9 L690.8,3595.7 L700.4,3602.9 L712.1,3610.7 L775.6,3648.7 L787.8,3655.5 L798.6,3660.8 L818.6,3669.8 L828.0,3673.2 L835.7,3675.0 L841.5,3675.5 L847.4,3675.2 L855.0,3673.5 L860.7,3671.6 L867.9,3668.4 L885.4,3658.6 L896.8,3650.6 L908.9,3640.1 L921.7,3627.5 L932.4,3615.7 L976.2,3561.0 L987.3,3544.4 L1003.5,3516.8 L1062.8,3407.9 L1078.5,3380.0 L1088.0,3364.7 L1123.9,3309.3 L1143.8,3276.9 L1159.6,3253.8 L1176.2,3231.2 L1204.7,3195.1 L1231.3,3162.6 L1256.0,3133.7 L1285.3,3100.9 L1296.6,3089.6 L1308.9,3079.4 L1317.1,3073.6 L1325.6,3068.5 L1332.8,3065.0 L1340.2,3062.3 L1347.9,3060.5 L1353.8,3059.9 L1361.7,3060.0 L1367.6,3060.9 L1373.3,3062.5 L1378.8,3064.7 L1384.0,3067.4 L1389.0,3070.7 L1395.2,3075.7 L1401.0,3081.2 L1413.0,3094.5 L1421.6,3105.5 L1429.3,3117.2 L1458.3,3169.7 L1464.3,3182.4 L1471.3,3199.0 L1489.6,3247.6 L1501.4,3277.4 L1516.2,3321.0 L1532.1,3362.0 L1552.5,3420.5 L1560.2,3441.2 L1573.1,3472.7 L1588.7,3507.3 L1603.1,3542.5 L1609.8,3557.0 L1617.0,3571.3 L1624.6,3585.3 L1631.8,3597.4 L1639.4,3609.1 L1648.5,3622.3 L1668.1,3647.6 L1678.4,3659.8 L1688.0,3670.0 L1698.3,3679.4 L1710.8,3689.5 L1722.3,3697.4 L1732.6,3703.5 L1743.4,3708.7 L1754.7,3712.7 L1764.3,3715.2 L1774.1,3717.1 L1784.0,3718.5 L1794.0,3719.2 L1842.0,3720.2 L1904.0,3720.5" fill="none" stroke="#000" stroke-width="3.2" stroke-linejoin="round" stroke-linecap="round"/>
<path d="M297.0,3320.0 L299.6,3392.0 L301.1,3416.0 L303.3,3441.9 L307.1,3479.7 L310.9,3511.5 L315.7,3545.2 L319.8,3568.9 L324.1,3588.4 L328.2,3603.9 L333.4,3619.0 L338.7,3632.0 L345.0,3644.4 L351.5,3654.5 L358.0,3662.0 L365.6,3668.2 L370.7,3671.1 L376.1,3673.2 L381.9,3674.7 L391.6,3676.5 L397.5,3677.3 L403.3,3677.6 L408.9,3676.9 L412.5,3675.8 L415.7,3674.1 L420.0,3670.5 L423.7,3666.0 L432.7,3653.2 L436.7,3648.9 L442.9,3643.9 L452.9,3637.5 L477.9,3624.9 L491.9,3617.0 L503.7,3609.4 L525.0,3594.5 L533.3,3589.1 L545.7,3582.6 L556.9,3578.6 L566.7,3576.8 L578.6,3576.6 L594.5,3577.9 L604.3,3579.4 L611.9,3581.6 L621.0,3585.5 L631.5,3591.3 L655.5,3605.8 L688.5,3628.4 L702.0,3637.0 L720.9,3648.3 L735.3,3655.2 L789.2,3676.7 L819.4,3687.2 L827.1,3689.3 L832.9,3690.4 L838.9,3690.8 L846.8,3690.6 L858.6,3688.9 L872.1,3685.2 L885.0,3679.9 L897.3,3673.2 L910.6,3664.4 L924.8,3653.4 L943.0,3637.7 L959.0,3622.5 L975.7,3605.3 L987.5,3591.7 L1004.7,3569.6 L1028.8,3540.3 L1096.7,3451.1 L1115.7,3427.8 L1139.2,3400.5 L1162.0,3375.2 L1182.9,3353.7 L1201.9,3335.9 L1243.4,3298.3 L1265.1,3280.5 L1285.9,3265.0 L1306.0,3251.8 L1314.7,3246.8 L1321.8,3243.3 L1329.2,3240.3 L1334.9,3238.4 L1340.7,3237.0 L1348.5,3235.9 L1356.5,3235.5 L1362.4,3235.8 L1374.2,3237.7 L1383.7,3240.7 L1394.7,3245.4 L1407.2,3251.6 L1415.5,3257.0 L1421.4,3262.2 L1426.7,3268.1 L1434.0,3277.7 L1442.0,3289.2 L1454.4,3309.7 L1488.0,3371.2 L1509.3,3414.2 L1540.1,3472.7 L1547.0,3487.1 L1565.8,3529.1 L1575.6,3548.9 L1584.2,3564.7 L1605.9,3600.7 L1621.4,3624.0 L1631.0,3636.8 L1639.7,3647.8 L1647.7,3656.7 L1654.8,3663.7 L1665.5,3672.8 L1675.2,3679.8 L1685.4,3686.0 L1694.4,3690.5 L1703.6,3694.1 L1743.4,3707.8 L1756.8,3711.9 L1770.3,3715.4 L1780.1,3717.3 L1790.0,3718.8 L1811.9,3720.5 L1835.9,3721.0 L1904.0,3721.0" fill="none" stroke="#000" stroke-width="3.2" stroke-linejoin="round" stroke-linecap="round"/>
<path d="M296.0,3340.0 L299.3,3426.0 L301.4,3459.9 L303.8,3487.8 L307.6,3519.6 L312.8,3555.3 L319.7,3594.7 L324.2,3616.2 L328.8,3631.5 L334.8,3646.3 L341.3,3658.7 L348.1,3668.5 L356.2,3677.2 L363.9,3683.4 L372.6,3688.2 L378.1,3690.4 L383.8,3692.1 L391.6,3693.4 L401.5,3693.5 L411.2,3692.0 L418.8,3689.7 L425.7,3686.2 L438.7,3677.1 L445.5,3672.9 L488.9,3652.5 L521.7,3633.4 L539.4,3624.2 L548.6,3620.3 L558.2,3617.6 L568.0,3616.2 L580.0,3615.7 L596.0,3615.9 L605.9,3616.6 L613.7,3617.8 L621.3,3620.1 L628.7,3623.1 L635.8,3626.7 L675.6,3649.7 L686.2,3655.3 L697.1,3660.4 L713.8,3667.1 L732.7,3673.7 L749.9,3678.9 L767.3,3683.4 L818.1,3694.7 L828.0,3696.1 L837.9,3696.8 L851.9,3696.7 L865.8,3695.3 L879.6,3692.8 L892.9,3688.8 L902.2,3685.0 L911.2,3680.6 L939.0,3664.9 L957.4,3652.9 L974.8,3639.3 L995.7,3620.7 L1011.4,3605.3 L1022.0,3593.4 L1041.8,3568.2 L1052.2,3556.0 L1071.3,3535.6 L1089.8,3517.3 L1098.9,3509.4 L1121.0,3492.4 L1163.5,3455.9 L1189.1,3436.7 L1220.5,3412.0 L1245.2,3394.8 L1267.2,3381.0 L1283.0,3372.3 L1311.7,3358.3 L1324.7,3353.1 L1336.2,3350.0 L1348.0,3348.1 L1360.0,3347.7 L1371.9,3348.8 L1381.6,3350.9 L1392.8,3354.9 L1403.5,3360.2 L1413.6,3366.7 L1423.0,3374.2 L1433.2,3383.7 L1444.3,3395.2 L1457.3,3410.4 L1470.7,3427.8 L1488.1,3452.3 L1515.9,3493.9 L1538.4,3521.9 L1544.9,3532.0 L1563.9,3564.9 L1573.2,3580.3 L1587.6,3601.9 L1602.7,3623.1 L1616.5,3640.2 L1630.1,3654.9 L1643.2,3667.2 L1657.5,3678.1 L1667.7,3684.4 L1676.6,3688.9 L1687.7,3693.5 L1706.4,3700.4 L1721.6,3705.4 L1740.9,3710.9 L1754.5,3714.3 L1768.2,3717.1 L1788.0,3719.7 L1812.0,3721.0 L1834.0,3721.3 L1904.0,3721.0" fill="none" stroke="#000" stroke-width="3.2" stroke-linejoin="round" stroke-linecap="round"/>
<path d="M294.0,3420.0 L296.1,3464.0 L298.0,3493.9 L300.4,3523.8 L303.9,3557.6 L306.6,3579.5 L309.2,3595.3 L312.9,3612.9 L317.1,3628.3 L322.6,3643.3 L328.9,3655.8 L336.5,3667.5 L346.5,3679.9 L355.0,3688.3 L363.0,3694.0 L372.0,3698.0 L381.6,3700.5 L391.5,3701.8 L399.4,3702.1 L407.3,3701.6 L415.1,3700.1 L422.7,3697.8 L445.2,3689.5 L479.9,3679.9 L495.1,3675.1 L506.3,3670.8 L533.7,3658.6 L548.7,3653.1 L556.4,3651.0 L564.2,3649.6 L572.1,3648.7 L584.1,3648.2 L610.1,3648.5 L620.0,3649.6 L627.8,3651.1 L643.0,3655.9 L685.8,3672.9 L706.6,3680.1 L718.1,3683.4 L727.8,3685.7 L749.5,3689.3 L773.4,3692.2 L793.3,3694.0 L817.2,3695.6 L835.2,3696.1 L849.2,3695.7 L863.1,3694.4 L878.9,3692.0 L892.6,3689.0 L909.8,3683.8 L926.4,3677.0 L958.9,3661.3 L1003.4,3638.6 L1018.6,3629.0 L1046.0,3608.8 L1060.8,3598.5 L1134.6,3550.7 L1155.1,3538.1 L1177.5,3525.0 L1196.8,3514.4 L1214.6,3505.3 L1236.3,3495.0 L1256.6,3486.5 L1271.6,3481.0 L1315.2,3466.2 L1324.8,3463.5 L1334.6,3461.6 L1346.5,3460.2 L1356.5,3459.9 L1370.4,3460.8 L1384.2,3462.9 L1399.8,3466.5 L1411.2,3470.2 L1420.2,3474.3 L1428.9,3479.3 L1458.4,3499.9 L1467.8,3507.3 L1476.6,3515.4 L1497.1,3537.3 L1519.7,3559.9 L1574.7,3618.1 L1586.0,3629.4 L1597.7,3640.3 L1616.1,3655.7 L1633.8,3668.7 L1650.7,3679.3 L1668.4,3688.7 L1677.5,3692.7 L1688.7,3697.1 L1715.3,3705.7 L1738.5,3711.8 L1760.2,3715.9 L1780.0,3718.0 L1804.0,3719.4 L1904.0,3721.5" fill="none" stroke="#000" stroke-width="3.2" stroke-linejoin="round" stroke-linecap="round"/>
<path d="M284.0,3562.0 L288.2,3560.7 L290.9,3560.7 L292.2,3561.0 L295.7,3563.6 L298.4,3568.0 L301.5,3577.1 L312.7,3621.8 L319.8,3644.7 L323.1,3654.1 L327.0,3663.3 L331.7,3672.1 L336.0,3678.9 L340.8,3685.2 L346.3,3690.9 L352.4,3696.0 L357.4,3699.2 L362.7,3702.0 L370.0,3704.9 L377.7,3707.0 L385.6,3708.2 L401.5,3709.0 L419.5,3708.7 L433.5,3707.5 L449.3,3705.1 L466.9,3701.4 L482.4,3697.4 L493.9,3693.8 L526.0,3682.6 L545.2,3677.0 L555.0,3675.0 L564.9,3673.6 L584.8,3672.2 L594.8,3672.3 L604.8,3673.0 L624.6,3675.7 L646.0,3680.6 L682.5,3691.4 L692.2,3693.9 L707.9,3696.8 L727.8,3699.2 L819.8,3704.0 L839.8,3704.6 L855.8,3704.2 L875.7,3703.0 L893.7,3701.5 L905.6,3699.9 L913.4,3698.4 L923.1,3695.9 L944.0,3689.0 L962.7,3681.8 L1005.2,3664.2 L1025.3,3655.1 L1046.9,3644.6 L1101.8,3615.6 L1141.2,3596.1 L1172.5,3582.5 L1211.8,3567.7 L1232.6,3560.5 L1251.7,3554.6 L1274.9,3548.4 L1298.4,3543.0 L1318.0,3539.2 L1335.8,3536.6 L1349.8,3535.4 L1365.8,3535.0 L1377.8,3535.5 L1387.7,3536.4 L1397.6,3537.8 L1407.3,3540.0 L1416.9,3542.9 L1428.1,3547.1 L1439.1,3552.0 L1449.9,3557.3 L1468.9,3568.3 L1487.2,3580.5 L1511.1,3598.8 L1533.9,3618.3 L1541.7,3624.5 L1579.4,3651.0 L1592.7,3659.8 L1608.3,3668.8 L1637.0,3683.1 L1653.6,3690.1 L1676.1,3698.5 L1695.2,3704.3 L1718.6,3710.0 L1742.2,3714.4 L1764.0,3717.3 L1783.9,3719.0 L1805.9,3720.0 L1904.0,3722.0" fill="none" stroke="#000" stroke-width="3.2" stroke-linejoin="round" stroke-linecap="round"/>
<path d="M284.0,3582.0 L290.5,3580.7 L295.1,3581.6 L299.0,3584.4 L302.2,3588.8 L305.8,3597.8 L311.3,3617.0 L315.0,3628.4 L323.8,3650.8 L329.0,3661.6 L334.9,3672.0 L340.5,3680.3 L345.5,3686.5 L351.0,3692.2 L357.1,3697.4 L363.6,3701.8 L370.7,3705.5 L376.2,3707.8 L383.8,3710.1 L391.6,3711.7 L401.5,3712.9 L411.5,3713.6 L423.5,3713.8 L443.4,3712.8 L497.2,3707.2 L534.7,3700.9 L554.5,3698.2 L568.5,3697.0 L584.5,3696.4 L610.5,3697.1 L690.4,3702.5 L750.4,3704.6 L844.3,3709.4 L866.3,3709.8 L886.4,3709.5 L902.3,3708.6 L918.3,3707.0 L936.1,3704.3 L957.7,3700.1 L981.1,3694.7 L998.4,3689.8 L1015.3,3683.6 L1042.4,3670.6 L1057.2,3664.6 L1101.0,3650.6 L1148.0,3633.5 L1176.9,3625.2 L1237.1,3610.4 L1288.2,3600.1 L1309.9,3596.5 L1329.7,3593.9 L1345.7,3592.5 L1359.7,3592.1 L1381.6,3593.2 L1407.4,3596.5 L1429.0,3600.8 L1448.2,3606.4 L1463.1,3612.2 L1479.4,3619.9 L1489.8,3625.8 L1513.4,3641.0 L1525.4,3648.0 L1543.3,3657.1 L1563.4,3666.1 L1589.5,3676.3 L1617.8,3686.2 L1669.5,3702.1 L1690.7,3707.8 L1708.4,3711.5 L1728.1,3714.5 L1750.0,3717.0 L1777.9,3719.3 L1817.9,3721.2 L1904.0,3722.5" fill="none" stroke="#000" stroke-width="3.2" stroke-linejoin="round" stroke-linecap="round"/>
<path d="M284.0,3604.0 L289.1,3604.0 L293.9,3605.2 L298.1,3608.1 L301.5,3612.5 L305.8,3621.2 L319.8,3656.5 L327.8,3674.8 L332.5,3683.6 L336.7,3690.5 L341.3,3697.0 L345.0,3701.6 L349.2,3705.8 L353.8,3709.5 L358.8,3712.7 L364.1,3715.2 L369.7,3717.2 L377.4,3719.1 L391.3,3720.9 L411.2,3721.3 L497.2,3719.0 L593.2,3715.4 L675.2,3716.2 L763.2,3714.6 L867.2,3716.6 L895.2,3716.1 L923.2,3714.7 L955.1,3711.9 L1002.7,3705.7 L1030.5,3702.8 L1042.4,3701.1 L1101.4,3690.4 L1178.1,3675.7 L1201.7,3671.8 L1227.5,3668.2 L1263.3,3664.0 L1297.1,3660.9 L1329.1,3659.0 L1355.1,3658.5 L1379.1,3658.9 L1405.0,3660.3 L1429.0,3662.4 L1448.8,3664.9 L1470.4,3669.0 L1507.3,3678.0 L1521.0,3680.9 L1554.6,3686.2 L1588.0,3692.6 L1625.6,3697.8 L1676.6,3708.3 L1704.3,3712.4 L1730.2,3714.9 L1764.1,3717.0 L1904.0,3723.0" fill="none" stroke="#000" stroke-width="3.2" stroke-linejoin="round" stroke-linecap="round"/>
<path d="M284.0,3624.0 L289.5,3625.7 L294.6,3628.1 L299.1,3631.5 L303.0,3635.7 L310.7,3647.2 L329.0,3678.3 L334.3,3686.7 L341.7,3696.1 L352.8,3707.6 L360.1,3714.1 L366.6,3718.1 L373.9,3720.4 L383.7,3721.5 L419.7,3722.4 L457.7,3722.5 L755.7,3719.4 L801.7,3719.2 L883.7,3720.0 L939.7,3719.5 L973.7,3718.6 L999.7,3717.3 L1023.6,3715.2 L1112.7,3702.7 L1164.3,3696.6 L1206.1,3692.5 L1248.0,3689.4 L1294.0,3686.8 L1331.9,3685.4 L1367.9,3685.0 L1405.9,3685.5 L1445.9,3686.8 L1479.8,3688.8 L1519.7,3692.0 L1565.5,3696.4 L1609.2,3701.4 L1633.0,3704.7 L1682.3,3712.8 L1698.2,3714.7 L1718.1,3716.5 L1772.1,3719.3 L1904.0,3723.5" fill="none" stroke="#000" stroke-width="3.2" stroke-linejoin="round" stroke-linecap="round"/>
<path d="M360.0,3723.0 L716.2,3723.0 L876.3,3723.9 L944.3,3723.6 L982.3,3722.7 L1012.3,3721.2 L1034.2,3719.2 L1085.9,3713.2 L1117.8,3711.2 L1157.8,3710.3 L1319.9,3709.3 L1383.9,3709.7 L1450.0,3711.0 L1538.0,3713.6 L1703.9,3720.1 L1770.0,3721.6 L1904.0,3724.0" fill="none" stroke="#000" stroke-width="3.2" stroke-linejoin="round" stroke-linecap="round"/>
<rect x="424.3" y="2672" width="679.7" height="452.5999999999999" fill="#fff" stroke="none"/>
<rect x="424.3" y="2672" width="679.7" height="452.5999999999999" fill="none" stroke="#737373" stroke-width="3"/>
<line x1="418.3" y1="3124.6" x2="424.3" y2="3124.6" stroke="#737373" stroke-width="2.5"/>
<text transform="translate(414.5,3141.2) scale(0.9750,1)" text-anchor="end" style="font-family:&quot;Liberation Sans&quot;,Arial,sans-serif;font-weight:bold;font-size:42px" fill="#000">0.0</text>
<line x1="418.3" y1="3011.4" x2="424.3" y2="3011.4" stroke="#737373" stroke-width="2.5"/>
<text transform="translate(414.5,3028.0) scale(0.9750,1)" text-anchor="end" style="font-family:&quot;Liberation Sans&quot;,Arial,sans-serif;font-weight:bold;font-size:42px" fill="#000">0.5</text>
<line x1="418.3" y1="2898.3" x2="424.3" y2="2898.3" stroke="#737373" stroke-width="2.5"/>
<text transform="translate(414.5,2914.9) scale(0.9750,1)" text-anchor="end" style="font-family:&quot;Liberation Sans&quot;,Arial,sans-serif;font-weight:bold;font-size:42px" fill="#000">1.0</text>
<line x1="418.3" y1="2785.2" x2="424.3" y2="2785.2" stroke="#737373" stroke-width="2.5"/>
<text transform="translate(414.5,2801.8) scale(0.9750,1)" text-anchor="end" style="font-family:&quot;Liberation Sans&quot;,Arial,sans-serif;font-weight:bold;font-size:42px" fill="#000">1.5</text>
<line x1="418.3" y1="2672.0" x2="424.3" y2="2672.0" stroke="#737373" stroke-width="2.5"/>
<text transform="translate(414.5,2688.6) scale(0.9750,1)" text-anchor="end" style="font-family:&quot;Liberation Sans&quot;,Arial,sans-serif;font-weight:bold;font-size:42px" fill="#000">2.0</text>
<line x1="424.3" y1="3124.6" x2="424.3" y2="3130.6" stroke="#737373" stroke-width="2.5"/>
<text transform="translate(424.3,3172.0) scale(0.9750,1)" text-anchor="middle" style="font-family:&quot;Liberation Sans&quot;,Arial,sans-serif;font-weight:bold;font-size:42px" fill="#000">0</text>
<line x1="560.2" y1="3124.6" x2="560.2" y2="3130.6" stroke="#737373" stroke-width="2.5"/>
<text transform="translate(560.2,3172.0) scale(0.9750,1)" text-anchor="middle" style="font-family:&quot;Liberation Sans&quot;,Arial,sans-serif;font-weight:bold;font-size:42px" fill="#000">2</text>
<line x1="696.2" y1="3124.6" x2="696.2" y2="3130.6" stroke="#737373" stroke-width="2.5"/>
<text transform="translate(696.2,3172.0) scale(0.9750,1)" text-anchor="middle" style="font-family:&quot;Liberation Sans&quot;,Arial,sans-serif;font-weight:bold;font-size:42px" fill="#000">4</text>
<line x1="832.1" y1="3124.6" x2="832.1" y2="3130.6" stroke="#737373" stroke-width="2.5"/>
<text transform="translate(832.1,3172.0) scale(0.9750,1)" text-anchor="middle" style="font-family:&quot;Liberation Sans&quot;,Arial,sans-serif;font-weight:bold;font-size:42px" fill="#000">6</text>
<line x1="968.1" y1="3124.6" x2="968.1" y2="3130.6" stroke="#737373" stroke-width="2.5"/>
<text transform="translate(968.1,3172.0) scale(0.9750,1)" text-anchor="middle" style="font-family:&quot;Liberation Sans&quot;,Arial,sans-serif;font-weight:bold;font-size:42px" fill="#000">8</text>
<line x1="1104.0" y1="3124.6" x2="1104.0" y2="3130.6" stroke="#737373" stroke-width="2.5"/>
<text transform="translate(1104.0,3172.0) scale(0.9750,1)" text-anchor="middle" style="font-family:&quot;Liberation Sans&quot;,Arial,sans-serif;font-weight:bold;font-size:42px" fill="#000">10</text>
<text transform="translate(358.5,3093.3) rotate(-90) scale(0.9570,1)" text-anchor="start" style="font-family:&quot;Liberation Sans&quot;,Arial,sans-serif;font-weight:bold;font-size:51px" fill="#000">Absorbance / a.u.</text>
<text transform="translate(611.0,3238.0)" text-anchor="start" style="font-family:&quot;Liberation Sans&quot;,Arial,sans-serif;font-weight:bold;font-size:49.5px" fill="#000">[MO] / mg L</text>
<text transform="translate(883.7,3216.3) scale(0.9200,1)" text-anchor="start" style="font-family:&quot;Liberation Sans&quot;,Arial,sans-serif;font-weight:bold;font-size:35px" fill="#000">-1</text>
<line x1="433.9" y1="3101.9" x2="1090.5" y2="2701.4" stroke="#d4d4d4" stroke-width="2.5"/>
<line x1="455" y1="3121" x2="1093.6" y2="2741.7" stroke="#d4d4d4" stroke-width="2.5"/>
<line x1="436" y1="3116" x2="1093.6" y2="2720" stroke="#d86464" stroke-width="3"/>
<line x1="464.9" y1="3079.4" x2="464.9" y2="3121.4" stroke="#4a4a4a" stroke-width="3"/>
<line x1="459.9" y1="3079.4" x2="469.9" y2="3079.4" stroke="#333" stroke-width="3"/>
<line x1="459.9" y1="3121.4" x2="469.9" y2="3121.4" stroke="#333" stroke-width="3"/>
<rect x="460.4" y="3095.9" width="9" height="9" rx="2" fill="#000"/>
<line x1="490.4" y1="3062.3" x2="490.4" y2="3104.3" stroke="#4a4a4a" stroke-width="3"/>
<line x1="485.4" y1="3062.3" x2="495.4" y2="3062.3" stroke="#333" stroke-width="3"/>
<line x1="485.4" y1="3104.3" x2="495.4" y2="3104.3" stroke="#333" stroke-width="3"/>
<rect x="485.9" y="3078.8" width="9" height="9" rx="2" fill="#000"/>
<line x1="557.9" y1="3020.4" x2="557.9" y2="3062.4" stroke="#4a4a4a" stroke-width="3"/>
<line x1="552.9" y1="3020.4" x2="562.9" y2="3020.4" stroke="#333" stroke-width="3"/>
<line x1="552.9" y1="3062.4" x2="562.9" y2="3062.4" stroke="#333" stroke-width="3"/>
<rect x="553.4" y="3036.9" width="9" height="9" rx="2" fill="#000"/>
<line x1="622.4" y1="2983.0" x2="622.4" y2="3025.0" stroke="#4a4a4a" stroke-width="3"/>
<line x1="617.4" y1="2983.0" x2="627.4" y2="2983.0" stroke="#333" stroke-width="3"/>
<line x1="617.4" y1="3025.0" x2="627.4" y2="3025.0" stroke="#333" stroke-width="3"/>
<rect x="617.9" y="2999.5" width="9" height="9" rx="2" fill="#000"/>
<line x1="684.9" y1="2936.9" x2="684.9" y2="2978.9" stroke="#4a4a4a" stroke-width="3"/>
<line x1="679.9" y1="2936.9" x2="689.9" y2="2936.9" stroke="#333" stroke-width="3"/>
<line x1="679.9" y1="2978.9" x2="689.9" y2="2978.9" stroke="#333" stroke-width="3"/>
<rect x="680.4" y="2953.4" width="9" height="9" rx="2" fill="#000"/>
<line x1="807.9" y1="2902.0" x2="807.9" y2="2944.0" stroke="#4a4a4a" stroke-width="3"/>
<line x1="802.9" y1="2902.0" x2="812.9" y2="2902.0" stroke="#333" stroke-width="3"/>
<line x1="802.9" y1="2944.0" x2="812.9" y2="2944.0" stroke="#333" stroke-width="3"/>
<rect x="803.4" y="2918.5" width="9" height="9" rx="2" fill="#000"/>
<line x1="928.3" y1="2794.8" x2="928.3" y2="2836.8" stroke="#4a4a4a" stroke-width="3"/>
<line x1="923.3" y1="2794.8" x2="933.3" y2="2794.8" stroke="#333" stroke-width="3"/>
<line x1="923.3" y1="2836.8" x2="933.3" y2="2836.8" stroke="#333" stroke-width="3"/>
<rect x="923.8" y="2811.3" width="9" height="9" rx="2" fill="#000"/>
<line x1="1096.3" y1="2686.2" x2="1096.3" y2="2728.2" stroke="#4a4a4a" stroke-width="3"/>
<line x1="1091.3" y1="2686.2" x2="1101.3" y2="2686.2" stroke="#333" stroke-width="3"/>
<line x1="1091.3" y1="2728.2" x2="1101.3" y2="2728.2" stroke="#333" stroke-width="3"/>
<rect x="1091.8" y="2702.7" width="9" height="9" rx="2" fill="#000"/>
<rect x="433.8" y="3114.2" width="8" height="8" rx="1.5" fill="#000"/>
</svg>
</body></html>
